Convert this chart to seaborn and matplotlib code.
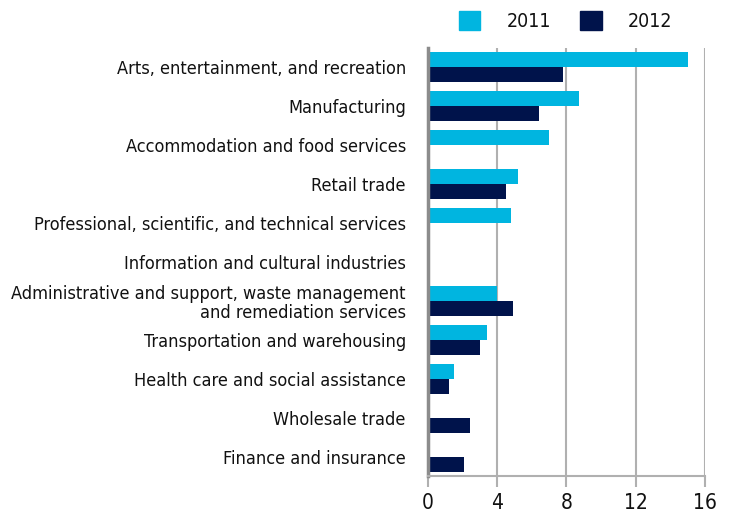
import numpy as np
import pandas as pd
import matplotlib.pyplot as plt
import seaborn as sns

# Values
industries = [
    'Arts, entertainment, and recreation',
    'Manufacturing',
    'Accommodation and food services',
    'Retail trade',
    'Professional, scientific, and technical services',
    'Information and cultural industries',
    'Administrative and support, waste management\nand remediation services',
    'Transportation and warehousing',
    'Health care and social assistance',
    'Wholesale trade',
    'Finance and insurance',
]
values_2011 = [15.0, 8.7, 7.0, 5.2, 4.8, np.nan, 4.0, 3.4, 1.5, np.nan, np.nan]
values_2012 = [7.8, 6.4, np.nan, 4.5, np.nan, np.nan, 4.9, 3.0, 1.2, 2.4, 2.1]
years = ['2011', '2012']
x_ticks = [0, 4, 8, 12, 16]

df = pd.DataFrame({
    'industry': industries * 2,
    'year': [years[0]] * len(industries) + [years[1]] * len(industries),
    'value': values_2011 + values_2012,
})

sns.set_style('white')
plt.rcParams['font.family'] = ['DejaVu Sans']
plt.rcParams['font.stretch'] = 'condensed'

fig, ax = plt.subplots(figsize=(7.31, 5.23), dpi=100)
fig.subplots_adjust(left=0.5855, right=0.9644, bottom=0.089, top=0.909)

sns.barplot(data=df, y='industry', x='value', hue='year', order=industries,
            hue_order=years, palette=['#00B5E0', '#00134B'], orient='h',
            width=0.77, saturation=1, errorbar=None, linewidth=0, ax=ax)

ax.set_xlim(0, 16)
ax.set_ylim(len(industries) - 0.5, -0.5)
ax.set_xticks(x_ticks)
ax.set_xlabel('')
ax.set_ylabel('')
ax.grid(axis='x', color='#B0B0B0', linewidth=1.5)
ax.set_axisbelow(True)
for side in ['top', 'right']:
    ax.spines[side].set_visible(False)
ax.spines['left'].set_color('#8C8C8C')
ax.spines['left'].set_linewidth(2.5)
ax.spines['bottom'].set_color('#B0B0B0')
ax.spines['bottom'].set_linewidth(1.5)
ax.tick_params(axis='x', direction='out', length=8, width=1.5, color='#B0B0B0',
               labelsize=15, pad=4, bottom=True)
ax.tick_params(axis='y', length=0, labelsize=13, pad=16)
for lbl in ax.get_yticklabels():
    lbl.set_linespacing(1.1)
for lbl in ax.get_xticklabels() + ax.get_yticklabels():
    lbl.set_color('#111111')

ax.legend_.remove()
handles = [plt.Rectangle((0, 0), 1, 1, color=c) for c in ['#00B5E0', '#00134B']]
leg = fig.legend(handles, years, loc='center', bbox_to_anchor=(0.774, 0.96), ncol=2,
                 frameon=False, fontsize=14, handlelength=1.1, handleheight=1.15,
                 handletextpad=1.35, columnspacing=1.5)
for t in leg.get_texts():
    t.set_color('#111111')

fig.savefig('out.png', dpi=100)
